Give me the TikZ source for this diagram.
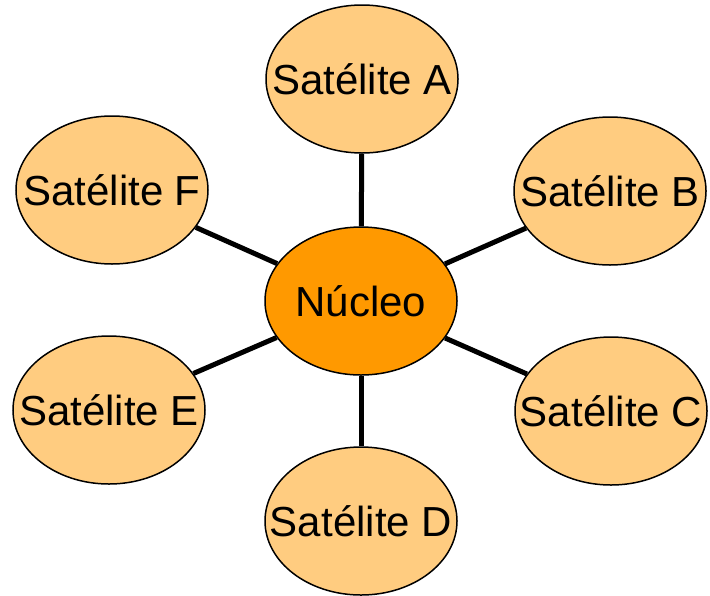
\documentclass[tikz,border=0pt]{standalone}
\usepackage{fontspec}
\setmainfont{Liberation Sans}
\usetikzlibrary{shapes.geometric}
\definecolor{satfill}{HTML}{FFCC80}
\definecolor{nucfill}{HTML}{FF9900}
\tikzset{
  blob/.style={ellipse, draw=black, line width=0.75pt, inner sep=0pt,
    minimum width=96pt, minimum height=74pt,
    font=\fontsize{21}{25}\selectfont},
  sat/.style={blob, fill=satfill},
  nuc/.style={blob, fill=nucfill},
  spoke/.style={line width=2.5pt}
}
\begin{document}
\begin{tikzpicture}[x=0.5pt, y=-0.5pt]
    \useasboundingbox (0, 0) rectangle (710, 595);

    \node[nuc] (nucleo) at (361, 301) {\makebox[0pt]{Núcleo}};

    \node[sat] (satA) at (362, 79) {\makebox[0pt]{Satélite A}};
    \node[sat] (satB) at (610, 191) {\makebox[0pt]{Satélite B}};
    \node[sat] (satC) at (611, 411) {\makebox[0pt]{Satélite C}};
    \node[sat] (satD) at (361, 521) {\makebox[0pt]{Satélite D}};
    \node[sat] (satE) at (109, 410) {\makebox[0pt]{Satélite E}};
    \node[sat] (satF) at (112, 190) {\makebox[0pt]{Satélite F}};

    \draw[spoke] (nucleo) -- (satA);
    \draw[spoke] (nucleo) -- (satB);
    \draw[spoke] (nucleo) -- (satC);
    \draw[spoke] (nucleo) -- (satD);
    \draw[spoke] (nucleo) -- (satE);
    \draw[spoke] (nucleo) -- (satF);
  \end{tikzpicture}
\end{document}
